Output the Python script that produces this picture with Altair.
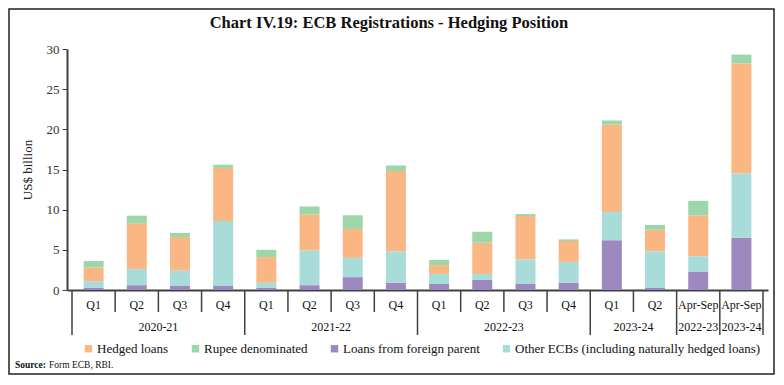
import altair as alt
import pandas as pd

# ---- data ----
periods = ["Q1", "Q2", "Q3", "Q4", "Q1", "Q2", "Q3", "Q4",
           "Q1", "Q2", "Q3", "Q4", "Q1", "Q2", "Apr-Sep", "Apr-Sep"]
years = ["2020-21", "2020-21", "2020-21", "2020-21",
         "2021-22", "2021-22", "2021-22", "2021-22",
         "2022-23", "2022-23", "2022-23", "2022-23",
         "2023-24", "2023-24", "2022-23 ", "2023-24 "]
foreign_parent = [0.3, 0.6, 0.5, 0.5, 0.3, 0.6, 1.6, 0.9, 0.75, 1.25, 0.75, 0.9, 6.2, 0.3, 2.3, 6.5]
other_ecbs = [0.8, 2.0, 1.9, 8.1, 0.6, 4.3, 2.4, 3.9, 1.25, 0.75, 3.05, 2.6, 3.5, 4.5, 1.9, 8.0]
hedged = [1.7, 5.7, 4.2, 6.6, 3.2, 4.5, 3.6, 10.0, 1.1, 3.9, 5.4, 2.6, 10.9, 2.7, 5.1, 13.7]
rupee = [0.8, 0.95, 0.5, 0.4, 0.9, 1.0, 1.7, 0.7, 0.65, 1.35, 0.25, 0.2, 0.5, 0.6, 1.8, 1.1]

series_names = ["Hedged loans", "Rupee denominated", "Loans from foreign parent",
                "Other ECBs (including naturally hedged loans)"]
series_colors = ["#FAB784", "#9CD6A9", "#9E88C0", "#A8DCD9"]
stack_rank = {"Loans from foreign parent": 0,
              "Other ECBs (including naturally hedged loans)": 1,
              "Hedged loans": 2, "Rupee denominated": 3}
series_values = {"Hedged loans": hedged, "Rupee denominated": rupee,
                 "Loans from foreign parent": foreign_parent,
                 "Other ECBs (including naturally hedged loans)": other_ecbs}

W, H = 701, 241
FONT = "Liberation Serif"

rows = []
for name, vals in series_values.items():
    for i, v in enumerate(vals):
        rows.append({"idx": i, "series": name, "value": v, "rank": stack_rank[name]})
bars_df = pd.DataFrame(rows)

# category labels and separators
q_df = pd.DataFrame({"idx": list(range(len(periods))), "label": periods})
runs = []
start = 0
for i in range(1, len(years) + 1):
    if i == len(years) or years[i] != years[start]:
        runs.append((years[start].strip(), start, i - 1))
        start = i
year_df = pd.DataFrame({"label": [r[0] for r in runs],
                        "idx": [(r[1] + r[2]) / 2 for r in runs]})
long_b = sorted({r[1] - 0.5 for r in runs} | {runs[-1][2] + 0.5})
short_b = [i + 0.5 for i in range(len(years) - 1) if (i + 0.5) not in long_b]
long_df = pd.DataFrame({"b": long_b})
short_df = pd.DataFrame({"b": short_b})

xscale = alt.Scale(domain=[-0.5, len(periods) - 0.5], nice=False, zero=False)

bars = alt.Chart(bars_df).mark_bar(size=20).encode(
    x=alt.X("idx:Q", scale=xscale,
            axis=alt.Axis(labels=False, ticks=False, grid=False, title=None,
                          domainColor="#404040", domainWidth=2)),
    y=alt.Y("sum(value):Q", scale=alt.Scale(domain=[0, 30], nice=False),
            stack="zero",
            axis=alt.Axis(values=[0, 5, 10, 15, 20, 25, 30], grid=False,
                          title="US$ billion", titleFont=FONT, titleFontSize=13,
                          titleFontWeight="normal", titleColor="#222",
                          titlePadding=12,
                          labelFont=FONT, labelFontSize=13, labelColor="#333",
                          labelPadding=3, tickSize=5, tickColor="#404040",
                          domainColor="#404040", domainWidth=2)),
    color=alt.Color("series:N",
                    scale=alt.Scale(domain=series_names, range=series_colors),
                    legend=alt.Legend(orient="none", legendX=15, legendY=293,
                                      direction="horizontal", columns=4,
                                      title=None, symbolType="square",
                                      symbolSize=55, symbolStrokeWidth=0,
                                      symbolOpacity=1,
                                      labelFont=FONT, labelFontSize=13,
                                      labelColor="#111", labelOffset=2,
                                      columnPadding=20, labelLimit=400)),
    order=alt.Order("rank:Q", sort="ascending"),
)

q_text = alt.Chart(q_df).mark_text(font=FONT, fontSize=12, color="#111",
                                   baseline="middle").encode(
    x="idx:Q", y=alt.value(H + 15), text="label:N")
year_text = alt.Chart(year_df).mark_text(font=FONT, fontSize=12, color="#111",
                                         baseline="middle").encode(
    x="idx:Q", y=alt.value(H + 37), text="label:N")
short_rules = alt.Chart(short_df).mark_rule(color="#404040", strokeWidth=1.5).encode(
    x="b:Q", y=alt.value(H), y2=alt.value(H + 22))
long_rules = alt.Chart(long_df).mark_rule(color="#404040", strokeWidth=1.5).encode(
    x="b:Q", y=alt.value(H), y2=alt.value(H + 45))

one = pd.DataFrame({"t": ["Chart  IV.19: ECB Registrations - Hedging Position"]})
title = alt.Chart(one).mark_text(font=FONT, fontSize=16.5, fontWeight=600,
                                 color="#111", baseline="middle").encode(
    x=alt.value(322), y=alt.value(-26), text="t:N")
src1 = alt.Chart(pd.DataFrame({"t": ["Source:"]})).mark_text(
    font=FONT, fontSize=9.5, fontWeight="bold", color="#111", align="left",
    baseline="middle").encode(x=alt.value(-52), y=alt.value(316), text="t:N")
src2 = alt.Chart(pd.DataFrame({"t": ["Form ECB, RBI."]})).mark_text(
    font=FONT, fontSize=9.5, color="#111", align="left",
    baseline="middle").encode(x=alt.value(-18), y=alt.value(316), text="t:N")
frame = alt.Chart(pd.DataFrame({"t": [0]})).mark_rect(
    fill=None, stroke="#222", strokeWidth=1.5).encode(
    x=alt.value(-58), x2=alt.value(707), y=alt.value(-40), y2=alt.value(325))

chart = alt.layer(bars, short_rules, long_rules, q_text, year_text,
                  title, src1, src2, frame).properties(
    width=W, height=H,
    padding={"left": 59, "top": 41, "right": 8, "bottom": 86},
    autosize=alt.AutoSizeParams(type="none"),
).configure_view(stroke=None)

chart.save("out.html", embed_options={"renderer": "svg", "actions": False})
